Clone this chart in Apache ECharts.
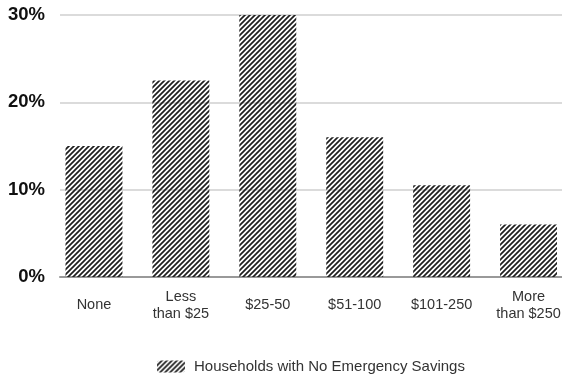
<!DOCTYPE html>
<html>
<head>
<meta charset="utf-8">
<script src="https://cdn.jsdelivr.net/npm/echarts@6/dist/echarts.min.js"></script>
<style>
  html, body { margin: 0; padding: 0; background: #fff; }
  #chart { width: 562px; height: 374px; }
</style>
</head>
<body>
<div id="chart"></div>
<script>
// Share of households with no emergency savings, by amount bucket
const categories = ['None', 'Less\nthan $25', '$25-50', '$51-100', '$101-250', 'More\nthan $250'];
const shares = [15, 22.5, 30, 16, 10.5, 6];
const yTicks = [0, 10, 20, 30];
const seriesName = 'Households with No Emergency Savings';

const FONT = 'Liberation Sans, Arial, Helvetica, sans-serif';

// Diagonal hatch fill used by the bars and the legend swatch
function makeHatch() {
  const size = 5;
  const c = document.createElement('canvas');
  c.width = size; c.height = size;
  const ctx = c.getContext('2d');
  ctx.strokeStyle = '#1e1e1e';
  ctx.lineWidth = 1.7;
  ctx.beginPath();
  for (let k = -1; k <= 1; k++) {
    ctx.moveTo(k * size - 1, size + 1);
    ctx.lineTo(k * size + size + 1, -1);
  }
  ctx.stroke();
  return c;
}
const hatch = { image: makeHatch(), repeat: 'repeat' };

const chart = echarts.init(document.getElementById('chart'), null, { renderer: 'canvas' });
chart.setOption({
  animation: false,
  grid: [
    { left: 60, right: 0, top: 15, bottom: 97, outerBoundsMode: 'none' },
    { left: 50.5, width: 521.5, top: 15, bottom: 97, outerBoundsMode: 'none' }
  ],
  legend: {
    data: [seriesName],
    left: 152,
    top: 354,
    itemWidth: 28,
    itemHeight: 12,
    textStyle: { color: '#333', fontSize: 15, fontFamily: FONT, padding: [0, 0, 0, 4] }
  },
  xAxis: [
    {
      type: 'category', gridIndex: 0, data: categories,
      axisLine: { show: true, lineStyle: { color: '#999', width: 2 } },
      axisTick: { show: false }, axisLabel: { show: false }
    },
    {
      type: 'category', gridIndex: 1, data: categories,
      axisLine: { show: false }, axisTick: { show: false },
      axisLabel: {
        margin: 28, verticalAlign: 'middle', interval: 0,
        color: '#333', fontSize: 14.5, lineHeight: 17, fontFamily: FONT
      }
    }
  ],
  yAxis: [
    {
      type: 'value', gridIndex: 0, min: yTicks[0], max: yTicks[yTicks.length - 1], interval: 10,
      axisLine: { show: false }, axisTick: { show: false },
      splitLine: { lineStyle: { color: '#cfcfcf', width: 1.5 } },
      axisLabel: {
        formatter: v => v + '%', margin: 15,
        color: '#111', fontSize: 18.5, fontWeight: 'bold', fontFamily: FONT
      }
    },
    {
      type: 'value', gridIndex: 1, min: yTicks[0], max: yTicks[yTicks.length - 1], interval: 10,
      show: false
    }
  ],
  series: [
    {
      name: seriesName,
      type: 'bar',
      xAxisIndex: 1, yAxisIndex: 1,
      data: shares,
      barWidth: '65.5%',
      z: 1,
      itemStyle: { color: hatch }
    }
  ]
});
</script>
</body>
</html>
